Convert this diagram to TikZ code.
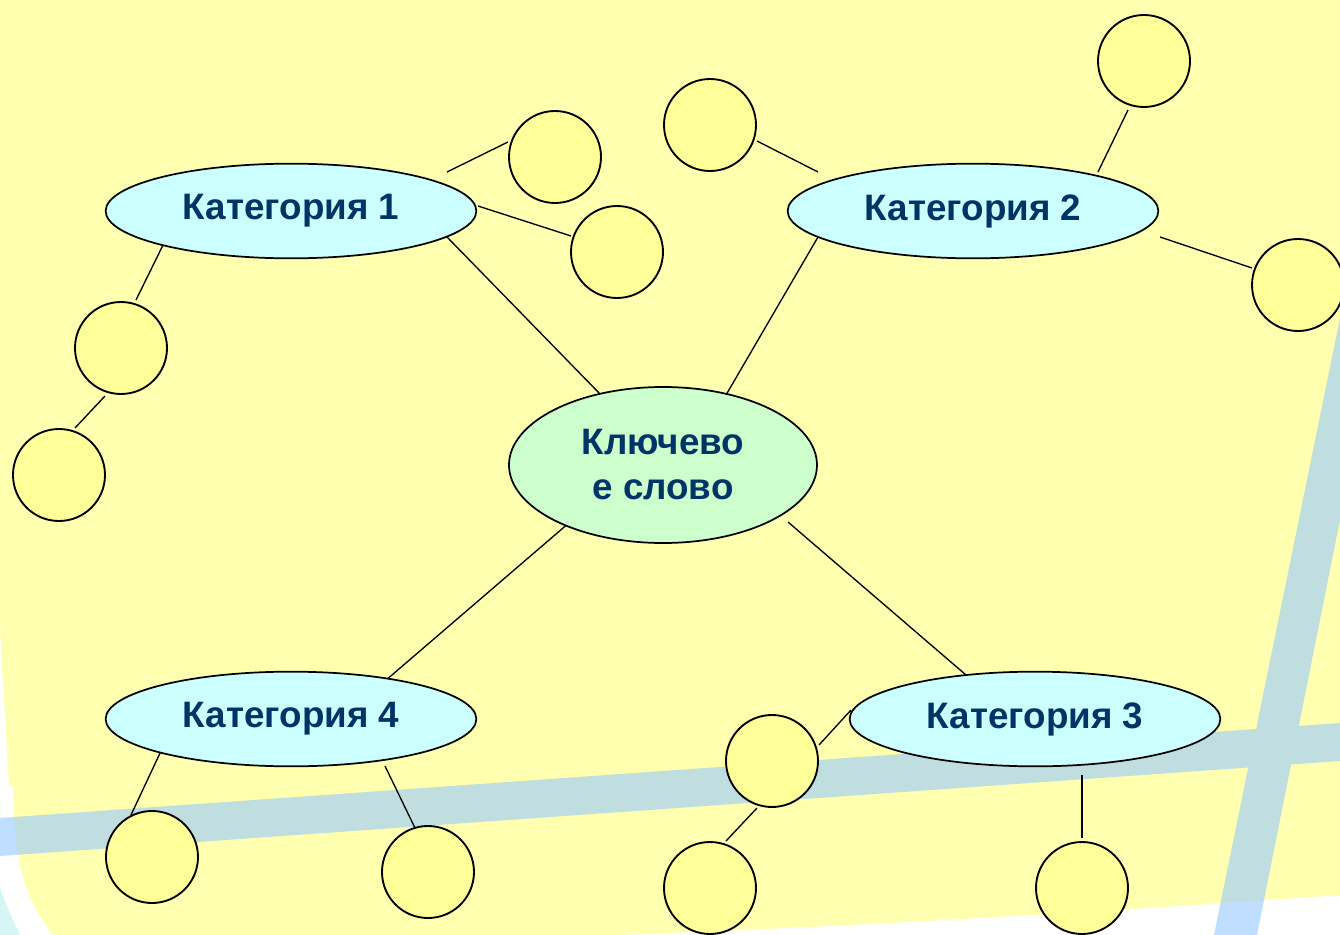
\documentclass[tikz,border=0pt]{standalone}
\usepackage{fontspec}
\setmainfont{Liberation Sans}
\usetikzlibrary{shapes.geometric,calc}
\definecolor{bgyellow}{RGB}{255,255,176}
\definecolor{circfill}{RGB}{255,255,153}
\definecolor{catfill}{RGB}{204,255,255}
\definecolor{keyfill}{RGB}{204,255,204}
\definecolor{txtblue}{RGB}{0,51,102}
\definecolor{cornercyan}{RGB}{214,245,245}
\definecolor{stripeblue}{RGB}{150,200,255}
\pgfdeclarelayer{bglayer}
\pgfdeclarelayer{linelayer}
\pgfsetlayers{bglayer,linelayer,main}
\begin{document}
\begin{tikzpicture}[x=0.75pt,y=-0.75pt,
  bubble/.style={circle,draw=black,line width=1.4pt,fill=circfill,minimum size=69pt,inner sep=0pt},
  catbox/.style={ellipse,draw=black,line width=1.3pt,fill=catfill,minimum width=278pt,minimum height=71pt,inner sep=0pt,
     text=txtblue,font=\fontsize{27.6}{33.75}\selectfont\bfseries},
  keybox/.style={ellipse,draw=black,line width=1.3pt,fill=keyfill,minimum width=231pt,minimum height=117pt,inner sep=0pt,
     text=txtblue,align=center,font=\fontsize{27.6}{33.75}\selectfont\bfseries},
  link/.style={draw=black,line width=1pt}]
\useasboundingbox (0,0) rectangle (1340,935);

% nodes
\node[catbox] (cat1) at (291,211) {Категория 1};
\node[catbox] (cat2) at (973,211) {Категория 2};
\node[catbox] (cat3) at (1035,719) {Категория 3};
\node[catbox] (cat4) at (291,719) {Категория 4};
\node[keybox] (key) at (663,465) {Ключево\\е слово};
\node[bubble] (c1) at (555,157) {};
\node[bubble] (c2) at (617,252) {};
\node[bubble] (c3) at (710,125) {};
\node[bubble] (c4) at (1144,61) {};
\node[bubble] (c5) at (1298,285) {};
\node[bubble] (c6) at (121,348) {};
\node[bubble] (c7) at (59,475) {};
\node[bubble] (c8) at (152,857) {};
\node[bubble] (c9) at (428,872) {};
\node[bubble] (c10) at (772,761) {};
\node[bubble] (c11) at (710,888) {};
\node[bubble] (c12) at (1082,888) {};

% background
\begin{pgfonlayer}{bglayer}
\fill[white] (0,0) rectangle (1340,935);
\fill[bgyellow] (0,0) -- (1340,0) -- (1340,895)
  .. controls (1200,905) and (900,925) .. (617,935) -- (53,935)
  .. controls (30,905) and (14,875) .. (13,787) -- (9,785) -- (0,630) -- cycle;
\fill[cornercyan] (0,888) .. controls (8,910) and (14,922) .. (20,935) -- (0,935) -- cycle;
\begin{scope}
\clip (0,0) rectangle (1340,935);
\fill[stripeblue,opacity=0.6]
  (0,818) -- (1340,723) -- (1340,761) -- (0,856) -- cycle
  (1214,935) -- (1405,0) -- (1444,0) -- (1257,935) -- cycle;
\end{scope}
\end{pgfonlayer}

% connectors
\begin{pgfonlayer}{linelayer}
\draw[link] ($(cat1)+(156,-39)$) -- ($(c1)+(-47,-15)$);
\draw[link] ($(cat1)+(187,-5)$) -- ($(c2)+(-46,-16)$);
\draw[link] ($(cat1)+(-124,26)$) -- ($(c6)+(15,-48)$);
\draw[link] ($(c6)+(-16,48)$) -- ($(c7)+(16,-47)$);
\draw[link] ($(cat1)+(156,26)$) -- ($(key)+(-62,-70)$);
\draw[link] ($(cat2)+(-155,26)$) -- ($(key)+(63,-70)$);
\draw[link] ($(cat2)+(-155,-39)$) -- ($(c3)+(47,16)$);
\draw[link] ($(cat2)+(125,-39)$) -- ($(c4)+(-16,49)$);
\draw[link] ($(cat2)+(187,26)$) -- ($(c5)+(-46,-17)$);
\draw[link] ($(key)+(-93,57)$) -- ($(cat4)+(94,-38)$);
\draw[link] ($(key)+(125,57)$) -- ($(cat3)+(-62,-38)$);
\draw[link] ($(cat4)+(-130,32)$) -- ($(c8)+(-21,-42)$);
\draw[link] ($(cat4)+(94,47)$) -- ($(c9)+(-13,-44)$);
\draw[link] ($(cat3)+(-184,-9)$) -- ($(c10)+(47,-16)$);
\draw[link] ($(c10)+(-15,47)$) -- ($(c11)+(16,-47)$);
\draw[link] ($(cat3)+(47,56)$) -- ($(c12)+(0,-50)$);
\end{pgfonlayer}
\end{tikzpicture}
\end{document}
